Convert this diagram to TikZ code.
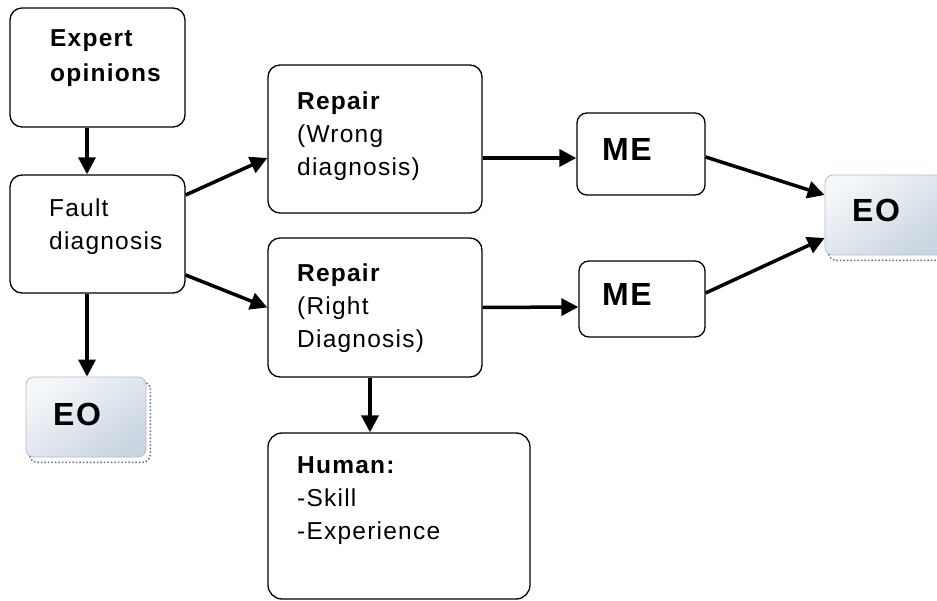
\documentclass[tikz,border=0pt]{standalone}
\usepackage{fontspec}
\setmainfont{Liberation Sans}[LetterSpace=5]
\usetikzlibrary{arrows.meta,backgrounds}
\definecolor{eotop}{HTML}{F4F7FA}
\definecolor{eobot}{HTML}{CAD5E1}
\definecolor{eoline}{HTML}{B2BECC}
\definecolor{eoshadow}{HTML}{5E6F86}
% multi-line text whose baseline is the first line
\newcommand\stacklines[1]{\parbox[t]{240pt}{\raggedright #1}}

\begin{document}
\begin{tikzpicture}[x=1pt,y=-1pt,
  box/.style={rectangle, draw=black, line width=1.3pt, rounded corners=12pt, inner sep=0pt},
  eobox/.style={rectangle, draw=eoline, line width=0.8pt, rounded corners=8pt,
    top color=eotop, bottom color=eobot, shading angle=35, inner sep=0pt},
  eoshade/.style={draw=eoshadow, dotted, line width=1.5pt, rounded corners=8pt},
  txt/.style={anchor=base west, inner sep=0pt, font=\fontsize{24.5}{33}\selectfont},
  big/.style={anchor=base west, inner sep=0pt, font=\fontsize{32}{36}\selectfont\bfseries},
  arr/.style={line width=3.5pt, -{Triangle[length=17pt,width=17pt]}}]

\useasboundingbox (0,0) rectangle (937,601);

% boxes
\node[box, minimum width=175pt, minimum height=119pt] (expert) at (97.5,67.5) {};
\node[box, minimum width=175pt, minimum height=118pt] (fault) at (97.5,234) {};
\node[eobox, minimum width=120pt, minimum height=80pt] (eoL) at (86,417) {};
\node[box, minimum width=214pt, minimum height=148pt] (repW) at (375,139) {};
\node[box, minimum width=214pt, minimum height=139pt] (repR) at (375,307.5) {};
\node[box, rounded corners=10pt, minimum width=128pt, minimum height=82pt] (meT) at (641,154) {};
\node[box, rounded corners=10pt, minimum width=126pt, minimum height=76pt] (meB) at (642,299) {};
\node[eobox, minimum width=120pt, minimum height=80pt] (eoR) at (885,215) {};
\node[box, rounded corners=14pt, minimum width=262pt, minimum height=166pt] (human) at (399,516) {};

% dotted shadows of the EO boxes
\begin{scope}[on background layer]
  \draw[eoshade] ([xshift=4pt,yshift=-5pt]eoL.north west) rectangle ([xshift=4pt,yshift=-5pt]eoL.south east);
  \draw[eoshade] ([xshift=4pt,yshift=-5pt]eoR.north west) rectangle ([xshift=4pt,yshift=-5pt]eoR.south east);
\end{scope}

% texts
\node[txt] (expertT) at (50,47) {\stacklines{\bfseries Expert\\[2pt]opinions}};
\node[txt] (faultT) at (49,217) {\stacklines{Fault\\diagnosis}};
\node[txt] (repWT) at (297,110) {\stacklines{\textbf{Repair}\\(Wrong\\diagnosis)}};
\node[txt] (repRT) at (297,282) {\stacklines{\textbf{Repair}\\(Right\\Diagnosis)}};
\node[txt] (humanT) at (297,473) {\stacklines{\textbf{Human:}\\-Skill\\-Experience}};
\node[big] (meTT) at (602,161) {ME};
\node[big] (meBT) at (602,306) {ME};
\node[big] (eoLT) at (53,425) {EO};
\node[big] (eoRT) at (852,222) {EO};

% connectors
\draw[arr] ([xshift=-10.5pt]expert.south) -- ([xshift=-10.5pt]fault.north);
\draw[arr] ([xshift=-10.5pt]fault.south) -- ([xshift=1pt]eoL.north);
\draw[arr] ([yshift=39pt]fault.east) -- ([yshift=-19pt]repW.west);
\draw[arr] ([yshift=-41pt]fault.east) -- (repR.west);
\draw[arr] ([yshift=-19pt]repW.east) -- ([yshift=-4pt]meT.west);
\draw[arr] (repR.east) -- ([yshift=-8pt]meB.west);
\draw[arr] ([yshift=-3pt]meT.east) -- ([yshift=20pt]eoR.west);
\draw[arr] ([yshift=6pt]meB.east) -- ([yshift=-23pt]eoR.west);
\draw[arr] ([xshift=-5pt]repR.south) -- ([xshift=-29pt]human.north);
\end{tikzpicture}
\end{document}
